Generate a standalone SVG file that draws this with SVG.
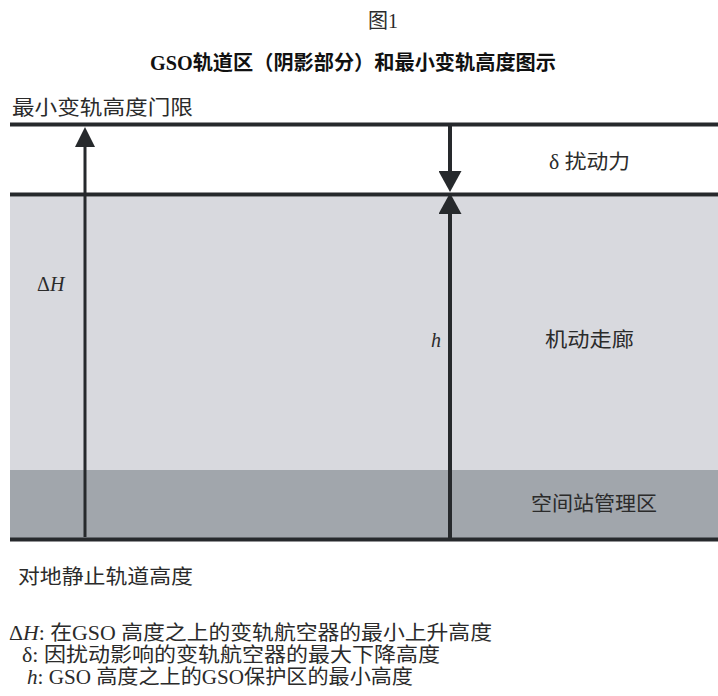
<svg xmlns="http://www.w3.org/2000/svg" width="718" height="696" viewBox="0 0 718 696">
<style>
.t{font-family:"Liberation Serif","Noto Sans CJK SC",serif;font-size:20px;fill:#2b2b2b}
.it{font-style:italic}
.ttl{font-weight:bold;fill:#111}
.hl{stroke:#26292c;stroke-width:4;fill:none}
.ar{stroke:#26292c;fill:none}
</style>
<defs>
<marker id="headA" viewBox="0 0 20 20" refX="10" refY="10" markerWidth="20" markerHeight="20" markerUnits="userSpaceOnUse" orient="auto">
<path d="M0,0 L20,10 L0,20 z" fill="#26292c"/>
</marker>
<marker id="headB" viewBox="0 0 21 23" refX="10" refY="11.5" markerWidth="21" markerHeight="23" markerUnits="userSpaceOnUse" orient="auto">
<path d="M0,0 L21,11.5 L0,23 z" fill="#26292c"/>
</marker>
</defs>
<rect width="718" height="696" fill="#ffffff"/>
<g id="title">
<text class="t" x="368" y="28" font-size="19">图1</text>
<text class="t ttl" x="150" y="70" font-size="23" textLength="406" lengthAdjust="spacingAndGlyphs">GSO轨道区（阴影部分）和最小变轨高度图示</text>
</g>
<g id="zone-corridor">
<rect x="10" y="196.5" width="708" height="273.5" fill="#d8d9de"/>
<text class="t" x="545" y="347" textLength="89" lengthAdjust="spacingAndGlyphs">机动走廊</text>
</g>
<g id="zone-station">
<rect x="10" y="470" width="708" height="68" fill="#a1a6ac"/>
<text class="t" x="531" y="511" textLength="126" lengthAdjust="spacingAndGlyphs">空间站管理区</text>
</g>
<g id="line-threshold">
<line class="hl" x1="10" y1="124.5" x2="718" y2="124.5"/>
<text class="t" x="12" y="114.5" textLength="181" lengthAdjust="spacingAndGlyphs">最小变轨高度门限</text>
</g>
<g id="line-protect">
<line class="hl" x1="10" y1="194.5" x2="718" y2="194.5"/>
<text class="t" x="549" y="169" textLength="81" lengthAdjust="spacingAndGlyphs">δ 扰动力</text>
</g>
<g id="line-gso">
<line class="hl" x1="10" y1="539.5" x2="718" y2="539.5" stroke-width="3.5"/>
<text class="t" x="18" y="584" textLength="175" lengthAdjust="spacingAndGlyphs">对地静止轨道高度</text>
</g>
<g id="connectors">
<line class="ar" x1="85" y1="537" x2="85" y2="137" stroke-width="3" marker-end="url(#headA)"/>
<line class="ar" x1="450" y1="126" x2="450" y2="181" stroke-width="4" marker-end="url(#headB)"/>
<line class="ar" x1="450" y1="540" x2="450" y2="204" stroke-width="4" marker-end="url(#headB)"/>
</g>
<g id="labels">
<text class="t" x="37" y="291">Δ<tspan class="it">H</tspan></text>
<text class="t it" x="431" y="347">h</text>
</g>
<g id="legend">
<text class="t" x="9" y="640" fill="#222" textLength="483" lengthAdjust="spacingAndGlyphs">Δ<tspan class="it">H</tspan>: 在GSO 高度之上的变轨航空器的最小上升高度</text>
<text class="t" x="22" y="662" fill="#222" textLength="418" lengthAdjust="spacingAndGlyphs">δ: 因扰动影响的变轨航空器的最大下降高度</text>
<text class="t" x="27" y="684" fill="#222" textLength="386" lengthAdjust="spacingAndGlyphs"><tspan class="it">h</tspan>: GSO 高度之上的GSO保护区的最小高度</text>
</g>
</svg>
